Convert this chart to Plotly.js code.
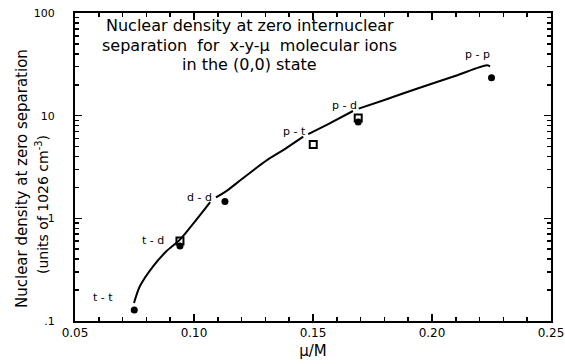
<!DOCTYPE html>
<html>
<head>
<meta charset="utf-8">
<script src="https://cdn.plot.ly/plotly-3.0.1.min.js"></script>
<style>
  html, body { margin: 0; padding: 0; background: #fff; }
  #chart { width: 565px; height: 364px; }
</style>
</head>
<body>
<div id="chart"></div>
<script>
// Calculated nuclear density curve (breaks left where the labels sit)
const curveMu = [0.0748, 0.0773, 0.0829, 0.0885, 0.0941, 0.1011, 0.1068, null,
                 0.1092, 0.1137, 0.1200, 0.1300, 0.1380, 0.1459, null,
                 0.1480, 0.1560, 0.1668, null,
                 0.1692, 0.1800, 0.1936, 0.2100, 0.2230, 0.2244];
const curveDensity = [0.150, 0.219, 0.343, 0.480, 0.620, 0.977, 1.44, null,
                      1.60, 1.85, 2.40, 3.60, 4.70, 6.24, null,
                      6.60, 8.20, 11.1, null,
                      11.7, 14.2, 18.3, 24.5, 30.9, 30.2];

// Filled-circle results
const circleMu = [0.0749, 0.0941, 0.1130, 0.1690, 0.2250];
const circleDensity = [0.128, 0.537, 1.455, 8.7, 23.4];

// Open-square results
const squareMu = [0.0941, 0.1501, 0.1690];
const squareDensity = [0.60, 5.25, 9.5];

// Molecular-ion labels
const ionNames = ['t - t', 't - d', 'd - d', 'p - t', 'p - d', 'p - p'];
const ionLabelMu = [0.0618, 0.0828, 0.1025, 0.1424, 0.1634, 0.2193];
const ionLabelDensity = [0.170, 0.61, 1.61, 7.08, 12.6, 39.5];

// Axis ticks
const xTickVals = [0.05, 0.10, 0.15, 0.20, 0.25];
const xTickText = ['0.05', '0.10', '0.15', '0.20', '0.25'];
const yTickVals = [0.1, 1, 10, 100];
const yTickText = ['.1', '1', '10', '100'];

// Heading inside the plot, one entry per line
const headingLines = [
  'Nuclear density at zero internuclear',
  'separation  for  x-y-\u03bc  molecular ions',
  'in the (0,0) state'
];
const headingLinePx = [25, 45, 64];

// Vertical axis title, two lines
const yTitleLines = ['Nuclear density at zero separation', '(units of 1026 cm<sup>-3</sup>)'];

const yMinor = [];
[0.1, 1, 10].forEach(d => { for (let k = 2; k <= 9; k++) yMinor.push(d * k); });

const FONT = '"DejaVu Sans", Verdana, sans-serif';
const PLOT_TOP = 13, PLOT_H = 308, PLOT_L = 75, PLOT_W = 476;

const traces = [
  {
    x: curveMu, y: curveDensity, type: 'scatter', mode: 'lines',
    line: { color: '#000', width: 2, shape: 'spline', smoothing: 0.8 },
    connectgaps: false, hoverinfo: 'skip'
  },
  {
    x: circleMu, y: circleDensity, type: 'scatter', mode: 'markers',
    marker: { symbol: 'circle', size: 7, color: '#000' }
  },
  {
    x: squareMu, y: squareDensity, type: 'scatter', mode: 'markers',
    marker: { symbol: 'square-open', size: 7, color: '#000', line: { width: 2, color: '#000' } }
  }
];

const annotations = ionNames.map((t, i) => ({
  x: ionLabelMu[i], y: Math.log10(ionLabelDensity[i]), xref: 'x', yref: 'y',
  text: t, showarrow: false, font: { family: FONT, size: 11, color: '#000' }
}));

headingLines.forEach((t, i) => annotations.push({
  x: 0.1235, xref: 'x',
  y: 1 - (headingLinePx[i] - PLOT_TOP) / PLOT_H, yref: 'paper',
  xanchor: 'center', yanchor: 'middle', showarrow: false,
  text: t, font: { family: FONT, size: 16, color: '#000' }
}));

// y title lines placed left of the plot area
annotations.push({
  x: (22 - PLOT_L) / PLOT_W, y: 1 - (179 - PLOT_TOP) / PLOT_H, xref: 'paper', yref: 'paper',
  xanchor: 'center', yanchor: 'middle', textangle: -90, showarrow: false,
  text: yTitleLines[0], font: { family: FONT, size: 15, color: '#000' }
});
annotations.push({
  x: (42 - PLOT_L) / PLOT_W, y: 1 - (205 - PLOT_TOP) / PLOT_H, xref: 'paper', yref: 'paper',
  xanchor: 'center', yanchor: 'middle', textangle: -90, showarrow: false,
  text: yTitleLines[1], font: { family: FONT, size: 14, color: '#000' }
});

const layout = {
  width: 565, height: 364,
  margin: { l: 75, r: 14, t: 13, b: 43 },
  paper_bgcolor: '#fff', plot_bgcolor: '#fff',
  showlegend: false,
  font: { family: FONT, color: '#000' },
  xaxis: {
    range: [0.05, 0.25],
    tickmode: 'array', tickvals: xTickVals, ticktext: xTickText,
    ticks: 'inside', ticklen: 7, tickwidth: 1.5, tickcolor: '#000',
    minor: { ticks: 'inside', ticklen: 4, tickwidth: 1.5, tickcolor: '#000', dtick: 0.01, tick0: 0.05 },
    showline: true, linecolor: '#000', linewidth: 2, mirror: 'ticks',
    showgrid: false, zeroline: false,
    tickfont: { family: FONT, size: 12, color: '#000' },
    title: { text: '\u03bc/M', font: { family: FONT, size: 15, color: '#000' }, standoff: 6 }
  },
  yaxis: {
    type: 'log', range: [-1, 2],
    tickmode: 'array', tickvals: yTickVals, ticktext: yTickText,
    ticks: 'inside', ticklen: 7, tickwidth: 1.5, tickcolor: '#000',
    minor: { ticks: 'inside', ticklen: 4, tickwidth: 1.5, tickcolor: '#000', tickvals: yMinor },
    showline: true, linecolor: '#000', linewidth: 2, mirror: 'ticks',
    showgrid: false, zeroline: false,
    ticklabelstandoff: 16,
    tickfont: { family: FONT, size: 11, color: '#000' }
  },
  annotations: annotations
};

Plotly.newPlot('chart', traces, layout, { staticPlot: true, displayModeBar: false });
</script>
</body>
</html>
